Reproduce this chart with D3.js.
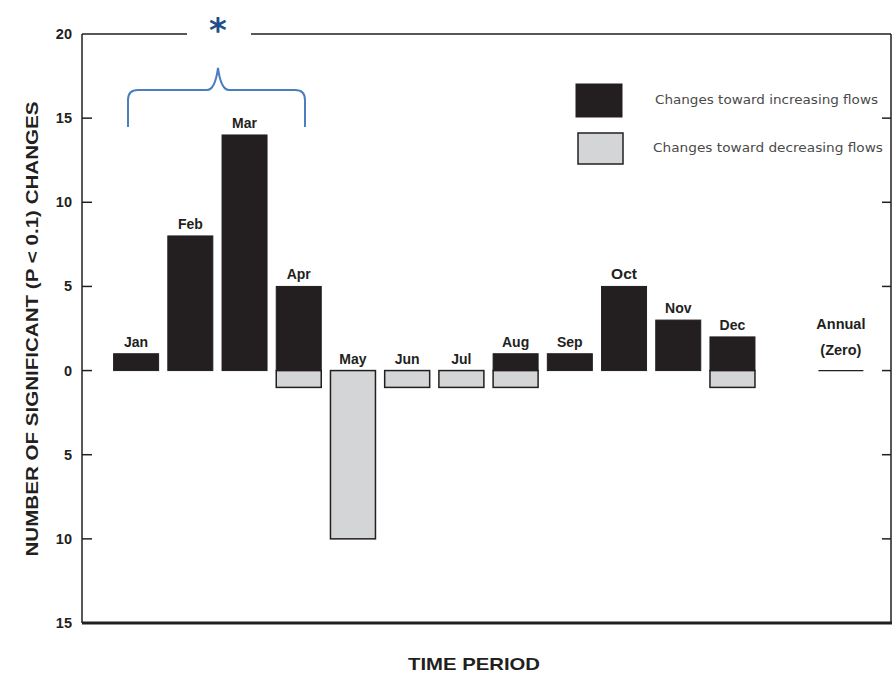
<!DOCTYPE html>
<html><head><meta charset="utf-8">
<script src="https://cdn.jsdelivr.net/npm/d3@7"></script>
<style>body{margin:0;background:#fff;} svg{display:block;}</style>
</head><body>
<svg id="c" width="896" height="673"></svg>
<script>
const categories = ["Jan","Feb","Mar","Apr","May","Jun","Jul","Aug","Sep","Oct","Nov","Dec","Annual"];
const increasing = [1,8,14,5,0,0,0,1,1,5,3,2,0];
const decreasing = [0,0,0,1,10,1,1,1,0,0,0,1,0];
const yTicks = [20,15,10,5,0,-5,-10,-15];
const yTickLabels = ["20","15","10","5","0","5","10","15"];
const legendLabels = ["Changes toward increasing flows","Changes toward decreasing flows"];

const svg = d3.select("#c");
const L = 82, R = 891, T = 34, B = 623;
const y = d3.scaleLinear().domain([20,-15]).range([T,B]);
const slots = [...categories.slice(0,12), "_gap", "Annual"];
const x = d3.scaleBand().domain(slots).range([109, 868]).paddingInner(0.17).paddingOuter(0.085);
const ink = "#231f20", grey = "#d4d5d7";
const font = "Liberation Sans, Arial, sans-serif";

// frame
svg.append("line").attr("x1",L).attr("x2",L).attr("y1",T).attr("y2",B).attr("stroke",ink).attr("stroke-width",1.5);
svg.append("line").attr("x1",R).attr("x2",R).attr("y1",T).attr("y2",B).attr("stroke",ink).attr("stroke-width",1.5);
svg.append("line").attr("x1",L).attr("x2",187).attr("y1",T).attr("y2",T).attr("stroke",ink).attr("stroke-width",1.5);
svg.append("line").attr("x1",251).attr("x2",R).attr("y1",T).attr("y2",T).attr("stroke",ink).attr("stroke-width",1.5);
svg.append("line").attr("x1",L).attr("x2",R+1).attr("y1",B).attr("y2",B).attr("stroke",ink).attr("stroke-width",3);

// axis ticks & labels
const ya = svg.append("g");
ya.selectAll("line.t").data(yTicks.slice(1,-1)).join("line")
  .attr("x1",L).attr("x2",L+10).attr("y1",d=>y(d)).attr("y2",d=>y(d)).attr("stroke",ink).attr("stroke-width",1.5);
ya.selectAll("line.r").data(yTicks.slice(1,-1)).join("line")
  .attr("x1",R-9).attr("x2",R).attr("y1",d=>y(d)).attr("y2",d=>y(d)).attr("stroke",ink).attr("stroke-width",1.5);
ya.selectAll("text").data(yTicks).join("text")
  .attr("x",72).attr("y",d=>y(d)+5).attr("text-anchor","end")
  .attr("font-family",font).attr("font-weight","bold").attr("font-size",14.5).attr("fill",ink)
  .text((d,i)=>yTickLabels[i]);

// bars
const bw = x.bandwidth();
const g = svg.append("g");
categories.forEach((c,i)=>{
  const x0 = x(c);
  if (c === "Annual") {
    g.append("line").attr("x1",x0).attr("x2",x0+bw).attr("y1",y(0)).attr("y2",y(0)).attr("stroke",ink).attr("stroke-width",1.2);
    g.append("text").attr("x",x0+bw/2).attr("y",y(0)-42).attr("text-anchor","middle")
      .attr("font-family",font).attr("font-weight","bold").attr("font-size",14.5).attr("fill",ink).text("Annual");
    g.append("text").attr("x",x0+bw/2).attr("y",y(0)-16).attr("text-anchor","middle")
      .attr("font-family",font).attr("font-weight","bold").attr("font-size",14.5).attr("fill",ink).text("(Zero)");
    return;
  }
  if (decreasing[i] > 0) {
    g.append("rect").attr("x",x0).attr("width",bw).attr("y",y(0)).attr("height",y(-decreasing[i])-y(0))
      .attr("fill",grey).attr("stroke",ink).attr("stroke-width",1.5);
  }
  if (increasing[i] > 0) {
    g.append("rect").attr("x",x0).attr("width",bw).attr("y",y(increasing[i])).attr("height",y(0)-y(increasing[i]))
      .attr("fill",ink).attr("stroke",ink).attr("stroke-width",1);
  }
  g.append("text").attr("x",x0+bw/2).attr("y",y(increasing[i])-7).attr("text-anchor","middle")
    .attr("font-family",font).attr("font-weight","bold").attr("font-size",c==="Oct"?15.5:14).attr("fill",ink).text(c);
});

// legend
const lg = svg.append("g");
lg.append("rect").attr("x",576).attr("y",84).attr("width",46).attr("height",33).attr("fill",ink).attr("stroke",ink);
lg.append("rect").attr("x",578).attr("y",133).attr("width",45).attr("height",31).attr("fill",grey).attr("stroke",ink).attr("stroke-width",1.5);
lg.append("text").attr("x",655).attr("y",104).attr("font-family","DejaVu Sans, sans-serif").attr("font-size",12)
  .attr("fill","#4a4a4a").attr("textLength",223).attr("lengthAdjust","spacingAndGlyphs").text(legendLabels[0]);
lg.append("text").attr("x",653).attr("y",152).attr("font-family","DejaVu Sans, sans-serif").attr("font-size",12)
  .attr("fill","#4a4a4a").attr("textLength",230).attr("lengthAdjust","spacingAndGlyphs").text(legendLabels[1]);

// axis titles
svg.append("text").attr("transform","translate(38,329) rotate(-90)").attr("text-anchor","middle")
  .attr("font-family",font).attr("font-weight","bold").attr("font-size",17).attr("fill",ink)
  .attr("textLength",455).attr("lengthAdjust","spacingAndGlyphs")
  .text("NUMBER OF SIGNIFICANT (P < 0.1) CHANGES");
svg.append("text").attr("x",474).attr("y",670).attr("text-anchor","middle")
  .attr("font-family",font).attr("font-weight","bold").attr("font-size",17).attr("fill",ink)
  .attr("textLength",132).attr("lengthAdjust","spacingAndGlyphs").text("TIME PERIOD");

// brace & asterisk
const brace = d3.path();
brace.moveTo(128,127); brace.lineTo(128,100); brace.quadraticCurveTo(128,90,138,90);
brace.lineTo(207,90); brace.quadraticCurveTo(215,90,218,68); brace.quadraticCurveTo(221,90,229,90);
brace.lineTo(295,90); brace.quadraticCurveTo(305,90,305,100); brace.lineTo(305,127);
svg.append("path").attr("d",brace.toString()).attr("fill","none").attr("stroke","#4a7ebf").attr("stroke-width",2);
svg.append("text").attr("x",218).attr("y",42).attr("text-anchor","middle")
  .attr("font-family","DejaVu Sans, sans-serif").attr("font-weight","bold").attr("font-size",34).attr("fill","#1f4e8c").text("*");
</script>
</body></html>
